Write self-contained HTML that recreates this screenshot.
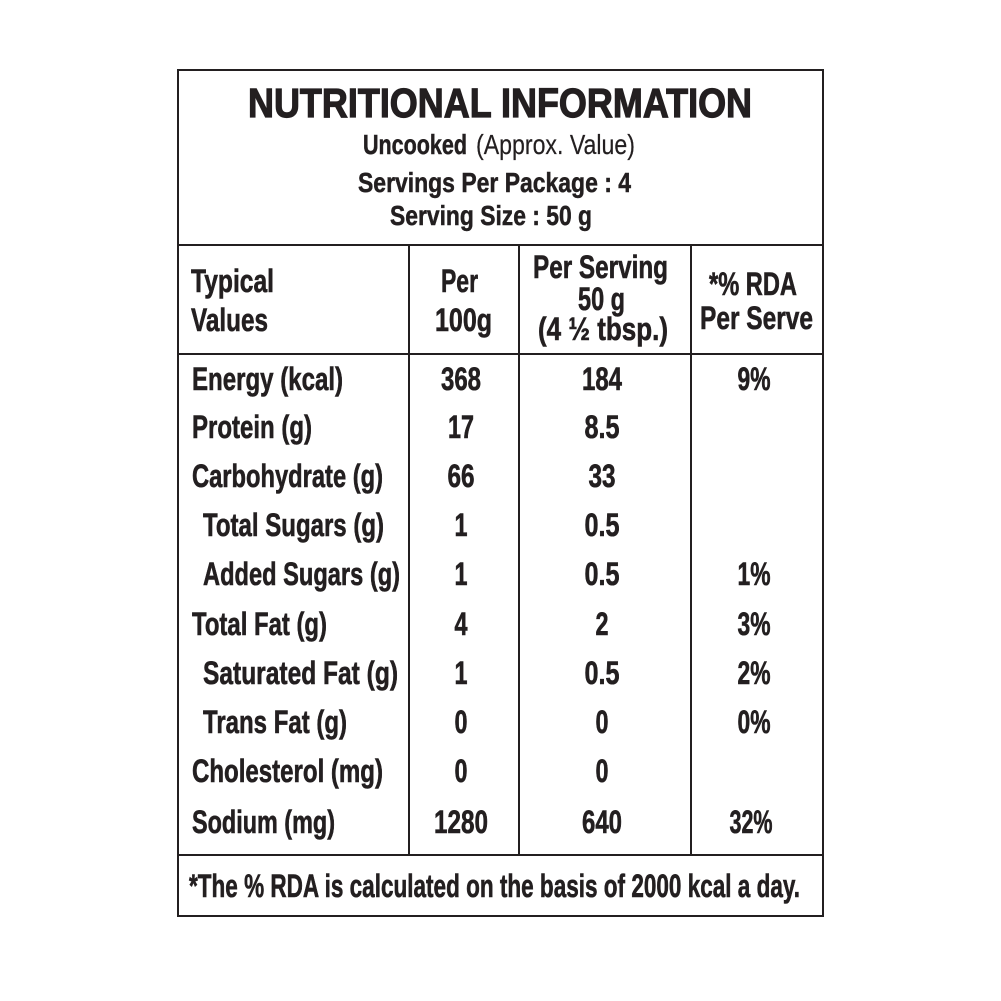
<!DOCTYPE html>
<html>
<head>
<meta charset="utf-8">
<style>
  html, body { margin:0; padding:0; background:#ffffff; }
  svg { display:block; }
  text { font-family: "Liberation Sans", "DejaVu Sans", sans-serif; fill:#231f20; font-weight:bold; stroke:#231f20; stroke-width:0.6; }
  .n { font-weight:normal; stroke-width:0.2; }
  .t { stroke-width:1.2; }
  .s { stroke-width:0.5; }
</style>
</head>
<body>
<svg width="1001" height="1001" viewBox="0 0 1001 1001" xmlns="http://www.w3.org/2000/svg">
  <rect x="0" y="0" width="1001" height="1001" fill="#ffffff"/>
  <!-- table lines -->
  <g stroke="#231f20" stroke-width="2" fill="none">
    <rect x="178" y="70" width="645" height="846"/>
    <line x1="177" y1="245" x2="824" y2="245"/>
    <line x1="177" y1="354" x2="824" y2="354"/>
    <line x1="177" y1="855" x2="824" y2="855"/>
    <line x1="409" y1="245" x2="409" y2="855"/>
    <line x1="519" y1="245" x2="519" y2="855"/>
    <line x1="691" y1="245" x2="691" y2="855"/>
  </g>

  <!-- title block -->
  <text class="t" x="248" y="117" font-size="41" textLength="504" lengthAdjust="spacingAndGlyphs">NUTRITIONAL INFORMATION</text>
  <text class="s" x="363" y="154" font-size="28" textLength="104" lengthAdjust="spacingAndGlyphs">Uncooked</text>
  <text class="n" x="476" y="154" font-size="28" textLength="159" lengthAdjust="spacingAndGlyphs">(Approx. Value)</text>
  <text class="s" x="358" y="192" font-size="28" textLength="273" lengthAdjust="spacingAndGlyphs">Servings Per Package : 4</text>
  <text class="s" x="390" y="225" font-size="28" textLength="202" lengthAdjust="spacingAndGlyphs">Serving Size : 50 g</text>

  <!-- header row -->
  <text x="191" y="292" font-size="32" textLength="83" lengthAdjust="spacingAndGlyphs">Typical</text>
  <text x="191" y="331" font-size="32" textLength="77" lengthAdjust="spacingAndGlyphs">Values</text>
  <text x="441" y="292" font-size="32" textLength="37" lengthAdjust="spacingAndGlyphs">Per</text>
  <text x="435" y="331" font-size="32" textLength="57" lengthAdjust="spacingAndGlyphs">100g</text>
  <text x="533" y="278" font-size="32" textLength="135" lengthAdjust="spacingAndGlyphs">Per Serving</text>
  <text x="578" y="310" font-size="32" textLength="47" lengthAdjust="spacingAndGlyphs">50 g</text>
  <text x="538" y="340" font-size="32" textLength="130" lengthAdjust="spacingAndGlyphs">(4 ½ tbsp.)</text>
  <text x="709" y="295" font-size="32" textLength="88" lengthAdjust="spacingAndGlyphs">*% RDA</text>
  <text x="700" y="329" font-size="32" textLength="113" lengthAdjust="spacingAndGlyphs">Per Serve</text>

  <!-- row labels -->
  <text x="192" y="390" font-size="32" textLength="151" lengthAdjust="spacingAndGlyphs">Energy (kcal)</text>
  <text x="192" y="438" font-size="32" textLength="120" lengthAdjust="spacingAndGlyphs">Protein (g)</text>
  <text x="192" y="487" font-size="32" textLength="191" lengthAdjust="spacingAndGlyphs">Carbohydrate (g)</text>
  <text x="203" y="536" font-size="32" textLength="181" lengthAdjust="spacingAndGlyphs">Total Sugars (g)</text>
  <text x="203" y="585" font-size="32" textLength="197" lengthAdjust="spacingAndGlyphs">Added Sugars (g)</text>
  <text x="192" y="635" font-size="32" textLength="135" lengthAdjust="spacingAndGlyphs">Total Fat (g)</text>
  <text x="203" y="684" font-size="32" textLength="195" lengthAdjust="spacingAndGlyphs">Saturated Fat (g)</text>
  <text x="203" y="733" font-size="32" textLength="144" lengthAdjust="spacingAndGlyphs">Trans Fat (g)</text>
  <text x="192" y="782" font-size="32" textLength="191" lengthAdjust="spacingAndGlyphs">Cholesterol (mg)</text>
  <text x="192" y="833" font-size="32" textLength="143" lengthAdjust="spacingAndGlyphs">Sodium (mg)</text>

  <!-- Per 100g column -->
  <g text-anchor="middle" font-size="32">
    <text x="461" y="390" textLength="40" lengthAdjust="spacingAndGlyphs">368</text>
    <text x="461" y="438" textLength="26" lengthAdjust="spacingAndGlyphs">17</text>
    <text x="461" y="487" textLength="27" lengthAdjust="spacingAndGlyphs">66</text>
    <text x="461" y="536" textLength="13" lengthAdjust="spacingAndGlyphs">1</text>
    <text x="461" y="585" textLength="13" lengthAdjust="spacingAndGlyphs">1</text>
    <text x="461" y="635" textLength="13" lengthAdjust="spacingAndGlyphs">4</text>
    <text x="461" y="684" textLength="13" lengthAdjust="spacingAndGlyphs">1</text>
    <text x="461" y="733" textLength="13" lengthAdjust="spacingAndGlyphs">0</text>
    <text x="461" y="782" textLength="13" lengthAdjust="spacingAndGlyphs">0</text>
    <text x="461" y="833" textLength="54" lengthAdjust="spacingAndGlyphs">1280</text>
  </g>

  <!-- Per Serving column -->
  <g text-anchor="middle" font-size="32">
    <text x="602" y="390" textLength="40" lengthAdjust="spacingAndGlyphs">184</text>
    <text x="602" y="438" textLength="35" lengthAdjust="spacingAndGlyphs">8.5</text>
    <text x="602" y="487" textLength="27" lengthAdjust="spacingAndGlyphs">33</text>
    <text x="602" y="536" textLength="35" lengthAdjust="spacingAndGlyphs">0.5</text>
    <text x="602" y="585" textLength="35" lengthAdjust="spacingAndGlyphs">0.5</text>
    <text x="602" y="635" textLength="13" lengthAdjust="spacingAndGlyphs">2</text>
    <text x="602" y="684" textLength="35" lengthAdjust="spacingAndGlyphs">0.5</text>
    <text x="602" y="733" textLength="13" lengthAdjust="spacingAndGlyphs">0</text>
    <text x="602" y="782" textLength="13" lengthAdjust="spacingAndGlyphs">0</text>
    <text x="602" y="833" textLength="40" lengthAdjust="spacingAndGlyphs">640</text>
  </g>

  <!-- RDA column -->
  <g text-anchor="middle" font-size="32">
    <text x="754" y="390" textLength="33" lengthAdjust="spacingAndGlyphs">9%</text>
    <text x="754" y="585" textLength="33" lengthAdjust="spacingAndGlyphs">1%</text>
    <text x="754" y="635" textLength="33" lengthAdjust="spacingAndGlyphs">3%</text>
    <text x="754" y="684" textLength="33" lengthAdjust="spacingAndGlyphs">2%</text>
    <text x="754" y="733" textLength="33" lengthAdjust="spacingAndGlyphs">0%</text>
    <text x="751" y="833" textLength="43" lengthAdjust="spacingAndGlyphs">32%</text>
  </g>

  <!-- footer -->
  <text x="189" y="897" font-size="32" textLength="611" lengthAdjust="spacingAndGlyphs">*The % RDA is calculated on the basis of 2000 kcal a day.</text>
</svg>
</body>
</html>
